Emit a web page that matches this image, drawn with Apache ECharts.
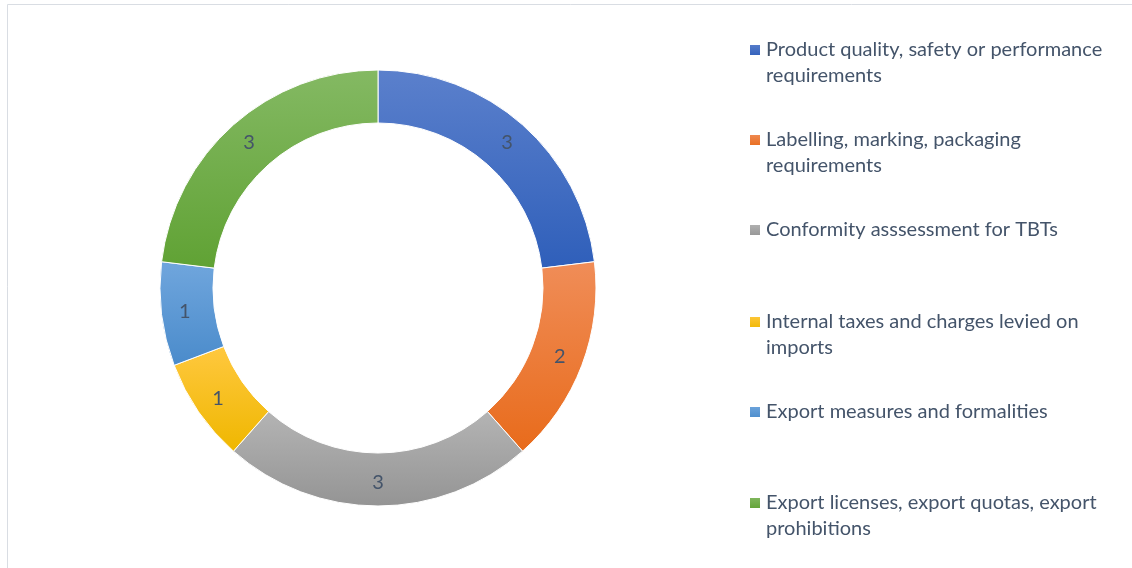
<!DOCTYPE html>
<html>
<head>
<meta charset="utf-8">
<script src="https://cdn.jsdelivr.net/npm/echarts@6/dist/echarts.min.js"></script>
<style>
html,body{margin:0;padding:0;background:#fff;}
#chart{width:1132px;height:568px;}
</style>
</head>
<body>
<div id="chart"></div>
<script>
const categories = [
  'Product quality, safety or performance requirements',
  'Labelling, marking, packaging requirements',
  'Conformity asssessment for TBTs',
  'Internal taxes and charges levied on imports',
  'Export measures and formalities',
  'Export licenses, export quotas, export prohibitions'
];
const legendLines = [
  ['Product quality, safety or performance', 'requirements'],
  ['Labelling, marking, packaging', 'requirements'],
  ['Conformity asssessment for TBTs'],
  ['Internal taxes and charges levied on', 'imports'],
  ['Export measures and formalities'],
  ['Export licenses, export quotas, export', 'prohibitions']
];
const values = [3, 2, 3, 1, 1, 3];

const gradTop = ['#5b80cc', '#f08d58', '#b4b4b4', '#ffc83f', '#70a6dd', '#84b963'];
const gradBottom = ['#2f5fba', '#e86b1b', '#949494', '#efb700', '#4a8bcb', '#60a234'];
const iconCenters = [50, 140, 230, 322, 412, 503];

const chart = echarts.init(document.getElementById('chart'), null, {renderer: 'canvas'});

const pieData = categories.map((c, i) => ({
  name: c,
  value: values[i],
  itemStyle: {
    color: new echarts.graphic.LinearGradient(0, 0, 0, 1, [
      {offset: 0, color: gradTop[i]},
      {offset: 1, color: gradBottom[i]}
    ])
  }
}));

const LH = 26;
const legends = categories.map((c, i) => {
  const two = legendLines[i].length > 1;
  return {
    data: [c],
    left: 748,
    top: iconCenters[i] - (two ? LH * 1.5 : LH / 2),
    padding: 0,
    orient: 'vertical',
    icon: 'rect',
    itemWidth: 12,
    itemHeight: 12,
    selectedMode: false,
    formatter: () => (two ? ' \n' : '') + legendLines[i].join('\n'),
    textStyle: {
      fontFamily: 'Lato',
      fontSize: 20,
      color: '#44546a',
      lineHeight: LH
    }
  };
});

chart.setOption({
  animation: false,
  backgroundColor: '#ffffff',
  legend: legends,
  graphic: [{
    type: 'rect',
    shape: {x: 7.5, y: 4.5, width: 1300, height: 700},
    style: {fill: 'none', stroke: '#d9dde3', lineWidth: 1},
    silent: true
  }],
  series: [{
    type: 'pie',
    center: [378, 288],
    radius: [165, 218],
    startAngle: 90,
    clockwise: true,
    avoidLabelOverlap: false,
    itemStyle: {borderColor: '#ffffff', borderWidth: 1},
    label: {
      show: true,
      position: 'inside',
      formatter: '{c}',
      fontFamily: 'Lato',
      fontSize: 20,
      color: '#44546a'
    },
    labelLine: {show: false},
    emphasis: {disabled: true},
    data: pieData
  }]
});
</script>
</body>
</html>
